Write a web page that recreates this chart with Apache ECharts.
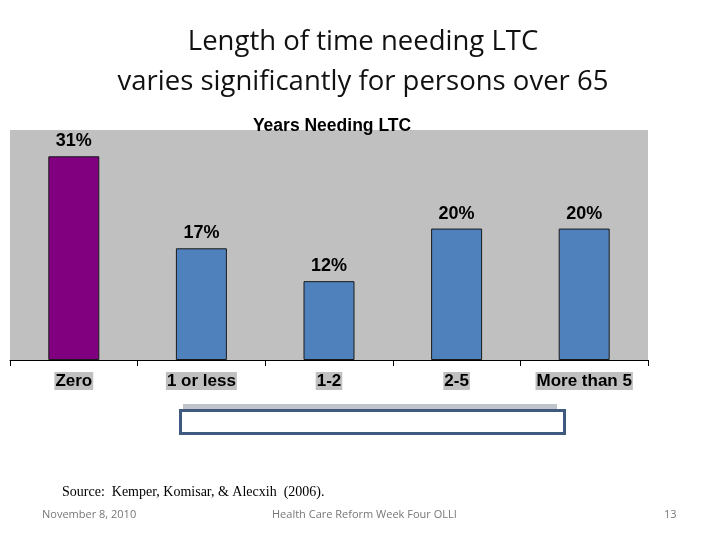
<!DOCTYPE html>
<html><head><meta charset="utf-8">
<script src="https://cdn.jsdelivr.net/npm/echarts@6/dist/echarts.min.js"></script>
<style>html,body{margin:0;padding:0;background:#fff}#c{width:720px;height:540px}</style>
</head><body><div id="c"></div>
<script>
const categories = ['Zero', '1 or less', '1-2', '2-5', 'More than 5'];
const values = [31, 17, 12, 20, 20];
const barColors = ['#800080', '#4F81BD', '#4F81BD', '#4F81BD', '#4F81BD'];

const chart = echarts.init(document.getElementById('c'));
chart.setOption({
  backgroundColor: '#ffffff',
  animation: false,
  title: [
    { text: 'Length of time needing LTC\nvaries significantly for persons over 65', left: 358, top: 17, textAlign: 'center',
      textStyle: { fontFamily: 'Open Sans', fontWeight: 'normal', fontSize: 27.5, color: '#111', lineHeight: 40 } },
    { text: 'Years Needing LTC', left: 327, top: 112, textAlign: 'center',
      textStyle: { fontFamily: 'Liberation Sans', fontWeight: 'bold', fontSize: 17.5, color: '#000' } }
  ],
  grid: { left: 10, right: 72, top: 130, bottom: 180, show: true, backgroundColor: '#C0C0C0', borderWidth: 0 },
  xAxis: {
    type: 'category', data: categories,
    axisLine: { lineStyle: { color: '#000', width: 1 } },
    axisTick: { show: true, inside: false, length: 6, interval: 0, alignWithLabel: false, lineStyle: { color: '#000' } },
    axisLabel: { interval: 0, margin: 12, fontFamily: 'Liberation Sans', fontWeight: 'bold', fontSize: 17, color: '#000',
      backgroundColor: '#C0C0C0', padding: [1, 1, 0, 1] }
  },
  yAxis: { type: 'value', min: 0, max: 35, show: false, splitLine: { show: false } },
  series: [{
    type: 'bar', barWidth: 51,
    data: values.map((v, i) => ({ value: v, itemStyle: { color: barColors[i] } })),
    itemStyle: { borderColor: '#1a1a1a', borderWidth: 1 },
    label: { show: true, position: 'top', distance: 6, formatter: '{c}%', fontFamily: 'Liberation Sans',
      fontWeight: 'bold', fontSize: 18, color: '#000' }
  }],
  graphic: [
    { type: 'rect', shape: { x: 183, y: 404, width: 374, height: 6 }, style: { fill: '#BFC4CB' } },
    { type: 'rect', shape: { x: 180.5, y: 410.5, width: 384, height: 23 }, style: { fill: '#fff', stroke: '#3F5A7E', lineWidth: 3 } },
    { type: 'text', left: 62, top: 485, style: { text: 'Source:  Kemper, Komisar, & Alecxih  (2006).', font: '14px "Liberation Serif"', fill: '#000' } },
    { type: 'text', left: 42, top: 509, style: { text: 'November 8, 2010', font: '11px "Open Sans"', fill: '#777' } },
    { type: 'text', left: 272, top: 509, style: { text: 'Health Care Reform Week Four OLLI', font: '11px "Open Sans"', fill: '#777' } },
    { type: 'text', left: 664, top: 509, style: { text: '13', font: '11px "Open Sans"', fill: '#777' } }
  ]
});
</script></body></html>
